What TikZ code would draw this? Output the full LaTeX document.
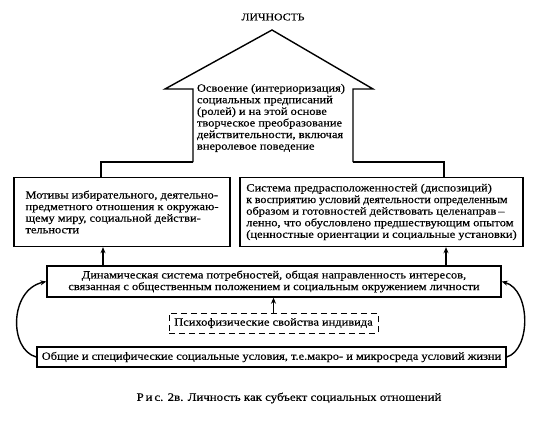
\documentclass[tikz,border=0pt]{standalone}
\usepackage{fontspec}
\setmainfont{Liberation Serif}[FakeStretch=1.13, FakeBold=0.4]
\usetikzlibrary{arrows.meta}
\begin{document}
\begin{tikzpicture}[x=1pt,y=-1pt,
  line width=1.4pt,
  txt/.style={font=\fontsize{11}{11.6}\selectfont, align=left, inner sep=0pt},
  box/.style={draw, txt, align=left, minimum height=#1},
  arr/.style={-{Stealth[length=6pt,width=5pt]}},
  dbox/.style={draw, line width=1pt, dash pattern=on 6pt off 4pt, txt, minimum width=209pt, minimum height=20pt}
]
\useasboundingbox (0,0) rectangle (543,428);
% title
\node[font=\fontsize{10.4}{11}\selectfont] (title) at (273,17) {ЛИЧНОСТЬ};
% house
\coordinate (hl) at (193,162);
\coordinate (hr) at (353,162);
\draw (hl) -- (193,89) -- (165,89) -- (272,30) -- (373,89) -- (353,89) -- (hr);
\node[txt] (house) at (271,118) {Освоение (интериоризация)\\социальных предписаний\\(ролей) и на этой основе\\творческое преобразование\\действительности, включая\\внеролевое поведение};
% upper boxes
\node[box=69pt, minimum width=216pt] (lb) at (122,212) {Мотивы избирательного, деятельно-\\предметного отношения к окружаю-\\щему миру, социальной действи-\\тельности};
\node[box=69pt, minimum width=283pt] (rb) at (381.5,212) {Система предрасположенностей (диспозиций)\\\scalebox{0.95}[1]{к восприятию условий деятельности определенным}\\образом и готовностей действовать целенаправ\,--\\ленно, что обусловлено предшествующим опытом\\(ценностные ориентации и социальные установки)};
% connectors house -> boxes
\coordinate (c1) at (101,0);
\coordinate (c2) at (444,0);
\draw (hl) -| (lb.north -| c1);
\draw (hr) -| (rb.north -| c2);
% middle box
\node[draw, txt, align=center, minimum width=454pt, minimum height=31pt] (mid) at (274,281.5) {Динамическая система потребностей, общая направленность интересов,\\связанная с общественным положением и социальным окружением личности};
\coordinate (a1) at (103,0);
\coordinate (a2) at (446,0);
\draw[arr] (mid.north -| a1) -- (lb.south -| a1);
\draw[arr] (mid.north -| a2) -- (rb.south -| a2);
% dashed box
\node[dbox] (psy) at (273.5,323) {Психофизические свойства индивида};
\draw[arr] (psy.north) -- (mid.south -| psy.north);
% bottom box
\node[draw, txt, minimum width=469pt, minimum height=20pt] (bot) at (271.5,357) {Общие и специфические социальные условия, т.е.макро- и микросреда условий жизни};
\draw[arr] (bot.west) .. controls (9,350) and (9,290) .. (mid.west);
\draw[arr] (bot.east) .. controls (531,350) and (531,290) .. (mid.east);
% caption
\node[font=\fontsize{11.4}{12}\selectfont, inner sep=0pt] (cap) at (289,398) {Р\,и\,с. 2в. Личность как субъект социальных отношений};
\end{tikzpicture}
\end{document}
